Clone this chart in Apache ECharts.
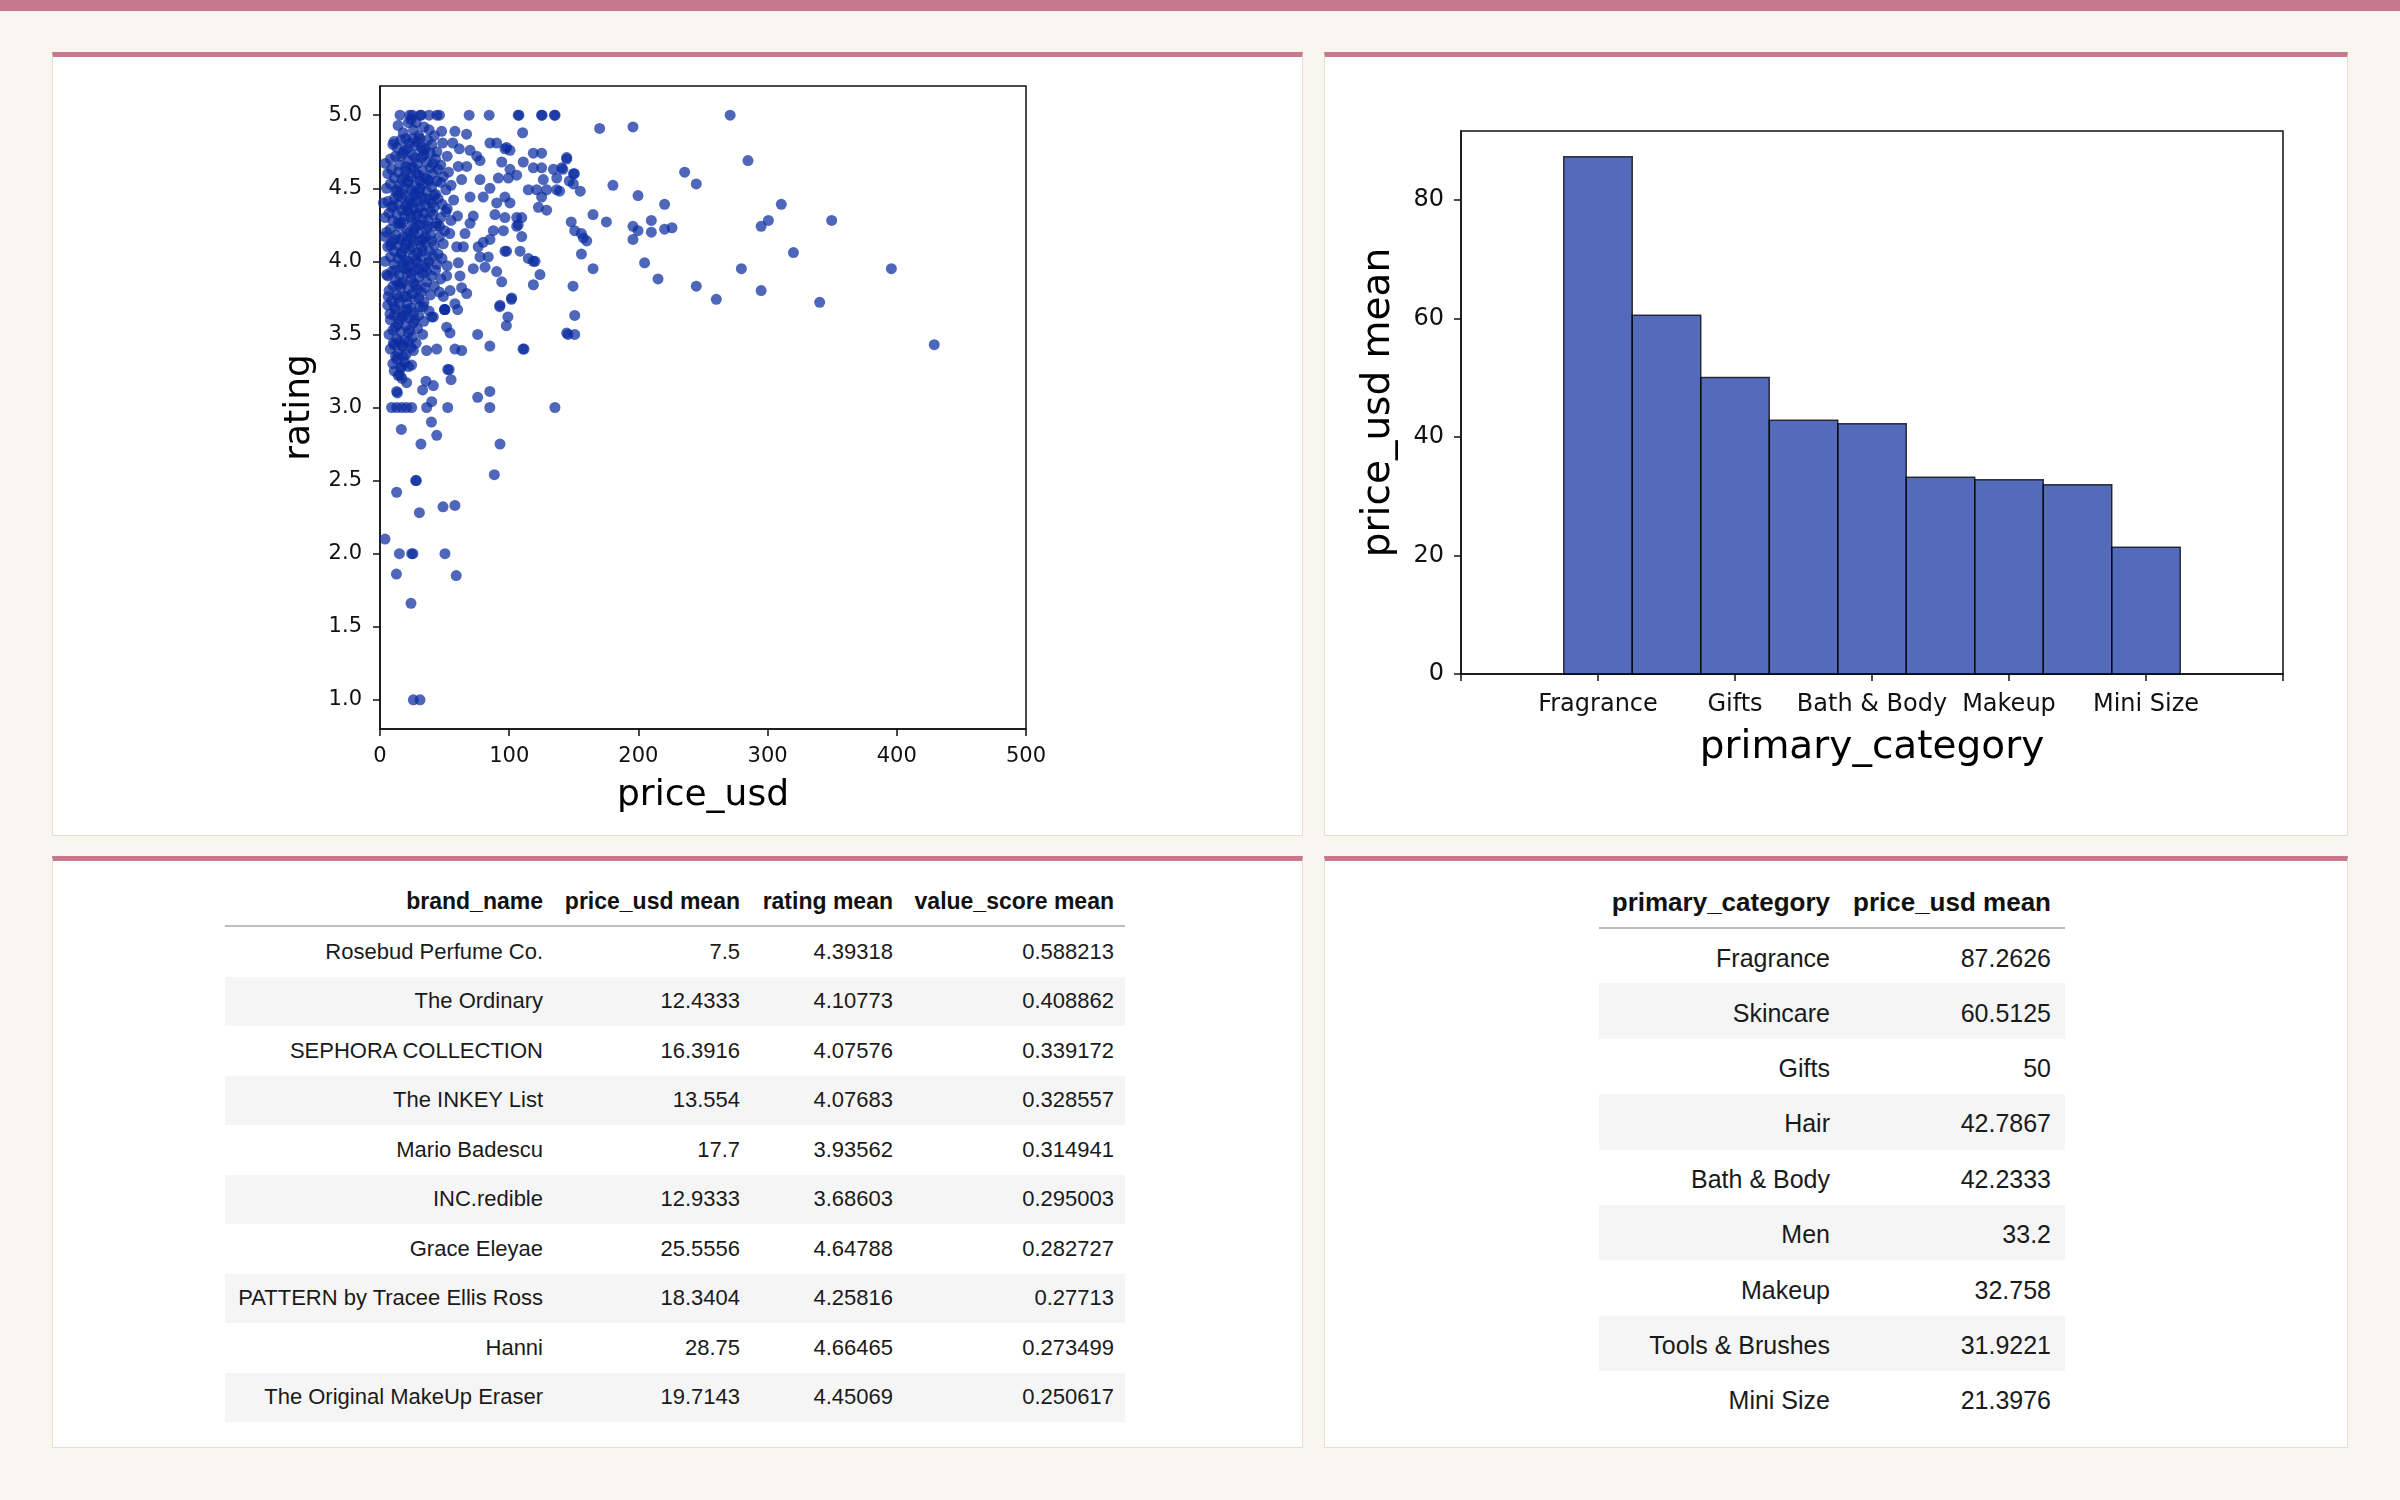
<!DOCTYPE html>
<html>
<head>
<meta charset="utf-8">
<script src="https://cdn.jsdelivr.net/npm/echarts@6/dist/echarts.min.js"></script>
<style>
  html, body { margin: 0; padding: 0; }
  body {
    width: 2400px; height: 1500px; position: relative; overflow: hidden;
    background: #f9f6ef; color: #1a1a1a;
    font-family: "Liberation Sans", Arial, sans-serif;
  }
  .topbar { position: absolute; left: 0; top: 0; width: 2400px; height: 11px; background: #c7788a; }
  .panel {
    position: absolute; background: #fff; box-sizing: border-box;
    border: 1px solid #e6dcd2; border-top: 5px solid #c7788a;
  }
  .chart { position: absolute; }
  table { position: absolute; border-collapse: collapse; table-layout: fixed; }
  th, td { text-align: right; white-space: nowrap; padding: 0; }
  th { font-weight: bold; color: #111; border-bottom: 2px solid #bdbdbd; }
  tbody tr:nth-child(even) td { background: #f5f5f5; }
  #brandTable { left: 225px; top: 877px; font-size: 22px; }
  #brandTable th { height: 48px; padding-right: 11px; font-size: 23px; }
  #brandTable td { height: 49.5px; padding-right: 11px; }
  #catTable { left: 1599px; top: 877px; font-size: 25px; }
  #catTable th { height: 50px; padding-right: 14px; font-size: 26px; }
  #catTable td { height: 55.4px; padding-right: 14px; padding-top: 4px; box-sizing: border-box; }
</style>
</head>
<body>
<div class="topbar"></div>
<div class="panel" style="left:52px;top:52px;width:1251px;height:784px;"></div>
<div class="panel" style="left:1324px;top:52px;width:1024px;height:784px;"></div>
<div class="panel" style="left:52px;top:856px;width:1251px;height:592px;"></div>
<div class="panel" style="left:1324px;top:856px;width:1024px;height:592px;"></div>

<div id="scatter" class="chart" style="left:52px;top:57px;width:1251px;height:779px;"></div>
<div id="bars" class="chart" style="left:1324px;top:57px;width:1024px;height:779px;"></div>

<table id="brandTable">
  <colgroup><col style="width:329px"><col style="width:197px"><col style="width:153px"><col style="width:221px"></colgroup>
  <thead><tr id="brandHead"></tr></thead>
  <tbody id="brandBody"></tbody>
</table>
<table id="catTable">
  <colgroup><col style="width:245px"><col style="width:221px"></colgroup>
  <thead><tr id="catHead"></tr></thead>
  <tbody id="catBody"></tbody>
</table>

<script>
// price_usd vs rating
const productPoints = [
  // top row at 5.0
  [15.5, 5], [23, 5], [25, 5], [31, 5], [32, 5], [38, 5], [44, 5], [46, 5], [69, 5], [84.5, 5],
  [107, 5], [107.5, 5], [125, 5], [125.5, 5], [135, 5], [135.5, 5], [271, 5],
  // dense core
  [14, 4.93], [18, 4.88], [22, 4.95], [26, 4.9], [30, 4.86], [34, 4.92], [20, 4.84], [28, 4.95], [38, 4.9], [42, 4.86], [24, 4.97],
  [10, 4.8], [13, 4.78], [16, 4.83], [19, 4.76], [23, 4.81], [27, 4.79], [31, 4.84], [35, 4.77], [40, 4.8], [44, 4.75], [21, 4.77], [29, 4.82], [33, 4.76], [37, 4.83],
  [8, 4.7], [12, 4.72], [15, 4.66], [18, 4.74], [22, 4.69], [25, 4.73], [29, 4.67], [32, 4.71], [36, 4.68], [39, 4.74], [43, 4.7], [47, 4.66], [52, 4.72], [20, 4.65], [27, 4.71], [34, 4.73],
  [6, 4.6], [9, 4.63], [11, 4.57], [14, 4.61], [17, 4.56], [20, 4.62], [24, 4.58], [26, 4.64], [30, 4.59], [33, 4.62], [37, 4.56], [41, 4.6], [45, 4.63], [49, 4.58], [53, 4.61], [22, 4.55], [28, 4.6], [35, 4.57], [39, 4.64],
  [5, 4.5], [8, 4.53], [12, 4.48], [15, 4.52], [18, 4.46], [21, 4.54], [24, 4.49], [27, 4.52], [30, 4.47], [33, 4.53], [36, 4.48], [40, 4.51], [43, 4.46], [47, 4.54], [51, 4.49], [55, 4.52], [26, 4.45], [31, 4.5], [38, 4.55], [19, 4.5], [14, 4.45],
  [6, 4.41], [9, 4.37], [11, 4.43], [14, 4.39], [17, 4.44], [20, 4.38], [23, 4.42], [26, 4.36], [29, 4.41], [32, 4.44], [35, 4.38], [38, 4.42], [42, 4.37], [45, 4.43], [48, 4.39], [52, 4.36], [57, 4.42], [25, 4.4], [31, 4.37], [40, 4.4], [21, 4.35],
  [4, 4.3], [7, 4.33], [10, 4.28], [13, 4.32], [16, 4.26], [19, 4.31], [22, 4.34], [25, 4.27], [28, 4.31], [31, 4.25], [34, 4.33], [37, 4.28], [41, 4.32], [44, 4.26], [47, 4.3], [51, 4.34], [55, 4.28], [60, 4.31], [24, 4.3], [33, 4.29], [18, 4.27],
  [5, 4.2], [8, 4.22], [12, 4.18], [15, 4.24], [18, 4.17], [21, 4.21], [24, 4.16], [27, 4.23], [30, 4.19], [33, 4.15], [36, 4.22], [39, 4.18], [43, 4.24], [46, 4.17], [50, 4.21], [54, 4.19], [23, 4.2], [29, 4.25], [35, 4.17], [16, 4.15],
  [6, 4.1], [9, 4.13], [11, 4.07], [14, 4.11], [17, 4.06], [20, 4.12], [23, 4.08], [26, 4.14], [29, 4.06], [32, 4.1], [35, 4.13], [38, 4.07], [42, 4.11], [45, 4.05], [49, 4.12], [25, 4.1], [31, 4.14], [19, 4.09], [40, 4.14],
  [4, 4.0], [8, 4.03], [11, 3.98], [14, 4.02], [17, 3.96], [20, 4.01], [23, 3.97], [26, 4.04], [29, 3.99], [32, 4.03], [35, 3.96], [38, 4.0], [41, 4.04], [44, 3.98], [48, 4.02], [22, 4.0], [30, 3.95], [16, 4.05], [52, 3.97],
  [6, 3.9], [9, 3.93], [12, 3.87], [15, 3.91], [18, 3.86], [21, 3.92], [24, 3.88], [27, 3.94], [30, 3.89], [33, 3.92], [36, 3.86], [40, 3.9], [43, 3.94], [47, 3.88], [20, 3.95], [26, 3.85],
  [7, 3.8], [10, 3.83], [13, 3.77], [16, 3.82], [19, 3.76], [22, 3.81], [25, 3.78], [28, 3.84], [32, 3.79], [35, 3.82], [39, 3.77], [42, 3.83], [46, 3.79], [17, 3.85], [30, 3.75],
  [6, 3.7], [9, 3.73], [12, 3.67], [15, 3.72], [18, 3.66], [21, 3.71], [24, 3.68], [27, 3.74], [31, 3.69], [34, 3.72], [38, 3.66], [14, 3.75], [26, 3.65],
  [8, 3.6], [11, 3.63], [14, 3.57], [17, 3.62], [20, 3.56], [23, 3.61], [26, 3.58], [30, 3.63], [34, 3.59], [12, 3.55], [40, 3.62],
  [7, 3.5], [10, 3.53], [13, 3.47], [16, 3.52], [19, 3.46], [22, 3.51], [25, 3.48], [29, 3.54], [33, 3.5], [15, 3.45],
  [8, 3.4], [11, 3.43], [14, 3.37], [17, 3.42], [20, 3.36], [24, 3.41], [28, 3.44], [12, 3.35], [22, 3.45],
  [10, 3.3], [13, 3.33], [16, 3.27], [19, 3.31], [14, 3.22], [11, 3.25], [22, 3.28], [17, 3.2],
  // the darkest part of the core
  [16, 4.72], [24, 4.64], [31, 4.55], [19, 4.58], [27, 4.47], [35, 4.43], [13, 4.49], [22, 4.4], [29, 4.33], [17, 4.35],
  [37, 4.24], [26, 4.2], [14, 4.26], [21, 4.14], [33, 4.07], [11, 4.15], [28, 4.01], [18, 3.99], [36, 3.93], [24, 3.92],
  [14, 3.84], [29, 3.81], [21, 3.76], [11, 3.69], [19, 3.63], [27, 3.6], [15, 3.6], [23, 3.53], [18, 3.42], [25, 4.84],
  [32, 4.78], [41, 4.67], [44, 4.55], [10, 4.38], [42, 4.45], [39, 4.34], [46, 4.24], [8, 4.11], [12, 3.94], [37, 3.99],
  // left edge and edge of the cluster
  [4.1, 4.67], [10.8, 4.82], [2.6, 4.4], [3.9, 4.17], [5.2, 3.91], [6.4, 3.76], [7.7, 3.64], [10.3, 3.44],
  [15.5, 3.22], [16.8, 3.28], [18, 3.35], [24.5, 3.29], [25.8, 3.39], [36.1, 3.39], [43.9, 3.4], [58, 3.4], [63.2, 3.39],
  [54.2, 3.51], [51.6, 3.55], [50.3, 3.67], [41.3, 3.62], [33.5, 3.69], [20.6, 3.67], [60.1, 3.67], [50, 3.67],
  [47.7, 4.89], [58, 4.89], [67, 4.87], [48.5, 4.81], [56.3, 4.81], [61.4, 4.77], [69.7, 4.76], [74.9, 4.72], [77.4, 4.69],
  [60.6, 4.65], [67.1, 4.65], [63.2, 4.56], [77.4, 4.56], [69.7, 4.44], [79.9, 4.44], [72.2, 4.31], [69.7, 4.26],
  [65.8, 4.19], [64.5, 4.1], [59.4, 4.1], [60.6, 3.99], [72.2, 3.95], [61.9, 3.9], [51.6, 3.9], [63.2, 3.82],
  [54.2, 3.8], [67.1, 3.78], [49, 3.76], [58, 3.71],
  // middle band
  [85.1, 4.81], [90.3, 4.81], [96.7, 4.77], [98, 4.78], [100.6, 4.76], [94.2, 4.68], [100.6, 4.63], [110.4, 4.88],
  [110.9, 4.68], [118.7, 4.74], [125.1, 4.74], [118.7, 4.64], [125.1, 4.64], [134.2, 4.63], [140.6, 4.64], [144.5, 4.71],
  [136.8, 4.57], [126.4, 4.56], [121.3, 4.49], [129, 4.49], [136.8, 4.49], [125.1, 4.44], [122.6, 4.37], [129, 4.35],
  [114.8, 4.49], [105.8, 4.59], [99.4, 4.57], [91.6, 4.57], [85.1, 4.5], [96.7, 4.44], [100.6, 4.4], [90.3, 4.4],
  [89, 4.32], [96.7, 4.3], [105.8, 4.3], [109.7, 4.3], [105.8, 4.24], [107, 4.25], [109.7, 4.17], [95.5, 4.21],
  [87.7, 4.21], [85.1, 4.15], [79.9, 4.13], [76, 4.1], [77.4, 4.03], [83.8, 4.03], [96.7, 4.07], [98, 4.07],
  [108.4, 4.07], [114.8, 4.02], [118.7, 4.0], [120, 4.0], [123.8, 3.91], [118.7, 3.84], [101.9, 3.75], [92.9, 3.7],
  [90.3, 3.93], [94.2, 3.86], [81.3, 3.96], [75.6, 3.5], [85, 3.42], [110.7, 3.4], [111.5, 3.4], [92.6, 3.69],
  [97.8, 3.56], [99, 3.62], [101.7, 3.74], [50, 3.67],
  // right side
  [170, 4.91], [195.8, 4.92], [284.8, 4.69], [144.5, 4.7], [141.5, 4.63], [149.7, 4.6], [150.5, 4.6], [146.5, 4.55],
  [149.7, 4.53], [155, 4.48], [139, 4.48], [235.8, 4.61], [244.8, 4.53], [180.3, 4.52], [199.7, 4.45], [220.3, 4.39],
  [310.6, 4.39], [164.9, 4.32], [175.2, 4.27], [195.8, 4.24], [210, 4.28], [199.7, 4.21], [195.8, 4.15], [210, 4.2],
  [220.3, 4.22], [226, 4.23], [295, 4.24], [300.6, 4.28], [349.6, 4.28], [148, 4.27], [150.7, 4.21], [155.9, 4.19],
  [157.4, 4.16], [160, 4.14], [155.9, 4.05], [164.9, 3.95], [204.8, 3.99], [215.2, 3.88], [244.8, 3.83], [260.3, 3.74],
  [279.7, 3.95], [295, 3.8], [320, 4.06], [340.3, 3.72], [395.8, 3.95], [429, 3.43], [149.4, 3.83], [150.7, 3.63],
  [145.5, 3.5], [150.7, 3.5], [144.5, 3.51],
  // lower tail
  [52.4, 3.26], [53.5, 3.26], [55, 3.19], [35.6, 3.18], [41.3, 3.15], [33, 3.12], [20.6, 3.17], [12.9, 3.11], [13.5, 3.1],
  [75.6, 3.07], [85, 3.11], [85, 3.0], [135.4, 3.0], [52.4, 3.0], [36.1, 3.0], [40, 3.04],
  [9, 3.0], [12.9, 3.0], [16.8, 3.0], [20.6, 3.0], [24.5, 3.0], [16.5, 2.85], [39.8, 2.9], [43.9, 2.81],
  [31.7, 2.75], [92.9, 2.75], [88.5, 2.54], [27.6, 2.5], [28.2, 2.5], [12.9, 2.42], [30.5, 2.28], [48.8, 2.32],
  [58, 2.33], [3.9, 2.1], [15, 2.0], [24.5, 2.0], [25.5, 2.0], [50.3, 2.0], [12.7, 1.86], [59, 1.85], [24, 1.66],
  [25.8, 1.0], [31, 1.0]
];
const ratingTicks = [1.0, 1.5, 2.0, 2.5, 3.0, 3.5, 4.0, 4.5, 5.0];

// mean price by primary category
const categories = ['Fragrance', 'Skincare', 'Gifts', 'Hair', 'Bath & Body', 'Men', 'Makeup', 'Tools & Brushes', 'Mini Size'];
const categoryPrice = [87.2626, 60.5125, 50, 42.7867, 42.2333, 33.2, 32.758, 31.9221, 21.3976];
const categoryPriceText = ['87.2626', '60.5125', '50', '42.7867', '42.2333', '33.2', '32.758', '31.9221', '21.3976'];
const barLabelPositions = [0, 2, 4, 6, 8];
const barTickPositions = [-2, 0, 2, 4, 6, 8, 10];
const priceTicks = [0, 20, 40, 60, 80];

// top brands by value score
const brands = ['Rosebud Perfume Co.', 'The Ordinary', 'SEPHORA COLLECTION', 'The INKEY List', 'Mario Badescu',
  'INC.redible', 'Grace Eleyae', 'PATTERN by Tracee Ellis Ross', 'Hanni', 'The Original MakeUp Eraser'];
const brandPrice = ['7.5', '12.4333', '16.3916', '13.554', '17.7', '12.9333', '25.5556', '18.3404', '28.75', '19.7143'];
const brandRating = ['4.39318', '4.10773', '4.07576', '4.07683', '3.93562', '3.68603', '4.64788', '4.25816', '4.66465', '4.45069'];
const brandValue = ['0.588213', '0.408862', '0.339172', '0.328557', '0.314941', '0.295003', '0.282727', '0.27713', '0.273499', '0.250617'];

const font = 'DejaVu Sans';
const dotColor = '#0b2ca0';

// scatter
const scatter = echarts.init(document.getElementById('scatter'));
scatter.setOption({
  animation: false,
  grid: { left: 328, top: 29, width: 646, height: 643, show: true, borderColor: '#111', borderWidth: 1.5, backgroundColor: '#fff' },
  xAxis: {
    type: 'value', min: 0, max: 500, interval: 100,
    name: 'price_usd', nameLocation: 'middle', nameGap: 49,
    nameTextStyle: { fontFamily: font, fontSize: 36, color: '#000' },
    axisLine: { show: true, onZero: false, lineStyle: { color: '#111', width: 1.5 } },
    axisTick: { show: true, length: 7, lineStyle: { color: '#111', width: 1.5 } },
    axisLabel: { fontFamily: font, fontSize: 21, color: '#111', margin: 17 },
    splitLine: { show: false }
  },
  yAxis: {
    type: 'value', min: 0.8, max: 5.2,
    name: 'rating', nameLocation: 'middle', nameGap: 58,
    nameTextStyle: { fontFamily: font, fontSize: 36, color: '#000' },
    axisLine: { show: true, onZero: false, lineStyle: { color: '#111', width: 1.5 } },
    axisTick: { show: true, length: 7, customValues: ratingTicks, lineStyle: { color: '#111', width: 1.5 } },
    axisLabel: {
      fontFamily: font, fontSize: 21, color: '#111', margin: 18, customValues: ratingTicks,
      formatter: function (v) { return v.toFixed(1); }
    },
    splitLine: { show: false }
  },
  series: [{
    type: 'scatter',
    data: productPoints,
    symbolSize: 11,
    itemStyle: { color: dotColor, opacity: 0.72 }
  }]
});

// bars
const bars = echarts.init(document.getElementById('bars'));
bars.setOption({
  animation: false,
  grid: { left: 137, top: 74, width: 822, height: 543, show: true, borderColor: '#111', borderWidth: 1.5, backgroundColor: '#fff' },
  xAxis: {
    type: 'value', min: -2, max: 10,
    name: 'primary_category', nameLocation: 'middle', nameGap: 54,
    nameTextStyle: { fontFamily: font, fontSize: 39, color: '#000' },
    axisLine: { show: true, onZero: false, lineStyle: { color: '#111', width: 1.5 } },
    axisTick: { show: true, length: 7, customValues: barTickPositions, lineStyle: { color: '#111', width: 1.5 } },
    axisLabel: {
      fontFamily: font, fontSize: 24, color: '#111', margin: 19, customValues: barLabelPositions,
      formatter: function (v) { return categories[v] || ''; }
    },
    splitLine: { show: false }
  },
  yAxis: {
    type: 'value', min: 0, max: 91.6,
    name: 'price_usd mean', nameLocation: 'middle', nameGap: 63,
    nameTextStyle: { fontFamily: font, fontSize: 39, color: '#000' },
    axisLine: { show: true, onZero: false, lineStyle: { color: '#111', width: 1.5 } },
    axisTick: { show: true, length: 7, customValues: priceTicks, lineStyle: { color: '#111', width: 1.5 } },
    axisLabel: { fontFamily: font, fontSize: 24, color: '#111', margin: 17, customValues: priceTicks },
    splitLine: { show: false }
  },
  series: [{
    type: 'custom',
    data: categoryPrice.map(function (v, i) { return [i, v]; }),
    encode: { x: 0, y: 1 },
    renderItem: function (params, api) {
      const topLeft = api.coord([api.value(0) - 0.5, api.value(1)]);
      const bottomRight = api.coord([api.value(0) + 0.5, 0]);
      return {
        type: 'rect',
        shape: { x: topLeft[0], y: topLeft[1], width: bottomRight[0] - topLeft[0], height: bottomRight[1] - topLeft[1] },
        style: { fill: 'rgba(11,44,160,0.7)', stroke: 'rgba(0,0,0,0.75)', lineWidth: 1.5 }
      };
    }
  }]
});

// tables
function fillRow(tr, cells, tag) {
  cells.forEach(function (c) {
    const el = document.createElement(tag);
    el.textContent = c;
    tr.appendChild(el);
  });
}
fillRow(document.getElementById('brandHead'), ['brand_name', 'price_usd mean', 'rating mean', 'value_score mean'], 'th');
const brandBody = document.getElementById('brandBody');
brands.forEach(function (b, i) {
  const tr = document.createElement('tr');
  fillRow(tr, [b, brandPrice[i], brandRating[i], brandValue[i]], 'td');
  brandBody.appendChild(tr);
});
fillRow(document.getElementById('catHead'), ['primary_category', 'price_usd mean'], 'th');
const catBody = document.getElementById('catBody');
categories.forEach(function (c, i) {
  const tr = document.createElement('tr');
  fillRow(tr, [c, categoryPriceText[i]], 'td');
  catBody.appendChild(tr);
});
</script>
</body>
</html>
